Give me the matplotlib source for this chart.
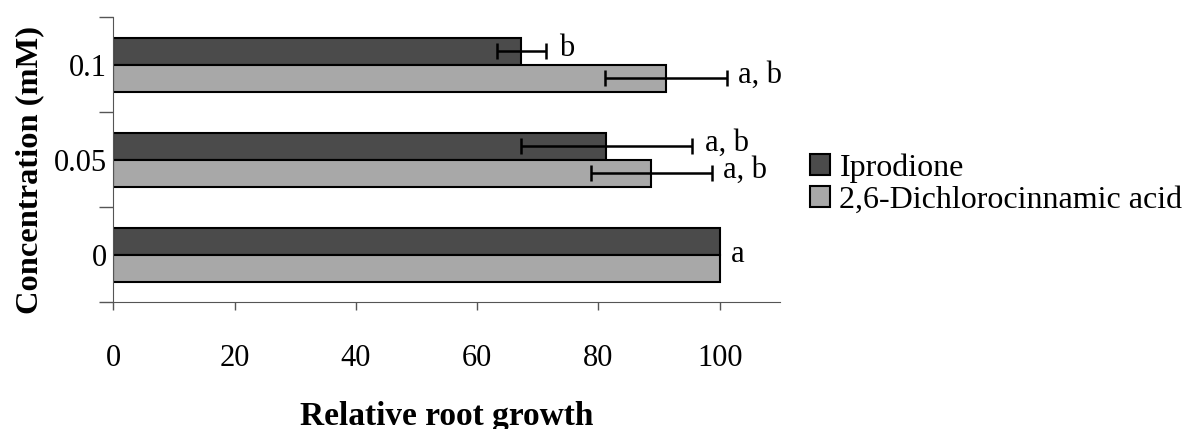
import numpy as np
import matplotlib.pyplot as plt

plt.rcParams['font.family'] = ['Liberation Serif', 'DejaVu Serif']

# данные
concentrations = ['0', '0.05', '0.1']
iprodione = [100, 81.3, 67.3]
iprodione_err = [0, 14.1, 4.0]
iprodione_letters = ['', 'a, b', 'b']
dca = [100, 88.7, 91.1]
dca_err = [0, 10.0, 10.1]
dca_letters = ['', 'a, b', 'a, b']
zero_letter = 'a'

y = np.arange(len(concentrations))
h = 0.284

fig = plt.figure(figsize=(11.93, 4.29), dpi=100)
ax = fig.add_axes([0.0951, 0.296, 0.559, 0.664])

ax.barh(y + h / 2, iprodione, height=h, color='#4b4b4b', edgecolor='black',
        linewidth=1.5, label='Iprodione')
ax.barh(y - h / 2, dca, height=h, color='#a8a8a8', edgecolor='black',
        linewidth=1.5, label='2,6-Dichlorocinnamic acid')

for i in range(len(y)):
    if iprodione_err[i] > 0:
        ax.errorbar(iprodione[i], y[i] + h / 2, xerr=iprodione_err[i], fmt='none',
                    ecolor='black', elinewidth=1.8, capsize=6, capthick=1.8)
        ax.text(iprodione[i] + iprodione_err[i] + 2.2, y[i] + h / 2 + 0.03, iprodione_letters[i],
                va='center', ha='left', fontsize=22)
    if dca_err[i] > 0:
        ax.errorbar(dca[i], y[i] - h / 2, xerr=dca_err[i], fmt='none',
                    ecolor='black', elinewidth=1.8, capsize=6, capthick=1.8)
        ax.text(dca[i] + dca_err[i] + 1.8, y[i] - h / 2 + 0.03, dca_letters[i],
                va='center', ha='left', fontsize=22)
ax.text(max(iprodione[0], dca[0]) + 1.8, y[0], zero_letter, va='center', ha='left', fontsize=22)

ax.set_xlim(0, 110)
ax.set_ylim(-0.5, 2.5)
ax.set_xticks([0, 20, 40, 60, 80, 100])
ax.set_yticks(y)
ax.set_yticklabels(concentrations)
ax.set_yticks([-0.5, 0.5, 1.5, 2.5], minor=True)
ax.tick_params(axis='y', which='major', length=0, pad=5, labelsize=22)
ax.tick_params(axis='y', which='minor', length=10, width=1, color='#555555')
ax.tick_params(axis='x', length=6, width=1, color='#555555', pad=24, labelsize=22)

for s in ['top', 'right']:
    ax.spines[s].set_visible(False)
ax.spines['left'].set_color('#555555')
ax.spines['bottom'].set_color('#555555')

ax.set_xlabel('Relative root growth', fontsize=24, fontweight='bold', va='baseline')
ax.xaxis.set_label_coords(0.5, -0.43)
ax.set_ylabel('Concentration (mM)', fontsize=23.4, fontweight='bold', va='center')
ax.yaxis.set_label_coords(-0.125, 0.463)

ax.legend(loc='upper left', bbox_to_anchor=(0.679, 0.643), bbox_transform=fig.transFigure,
          frameon=False, fontsize=23, borderaxespad=0, borderpad=0,
          handlelength=0.62, handleheight=0.62, handletextpad=0.3, labelspacing=0.1)

plt.savefig('out.png', dpi=100)
